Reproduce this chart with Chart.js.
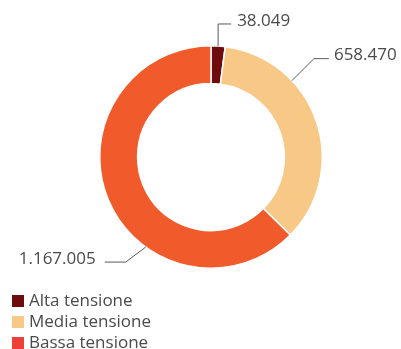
<!DOCTYPE html>
<html><head><meta charset="utf-8">
<script src="https://cdn.jsdelivr.net/npm/chart.js@4"></script>
<style>html,body{margin:0;padding:0;background:#fff}canvas{display:block}</style>
</head><body>
<canvas id="c" width="401" height="349"></canvas>
<script>
const categories = ['Alta tensione', 'Media tensione', 'Bassa tensione'];
const values = [38049, 658470, 1167005];
const valueLabels = ['38.049', '658.470', '1.167.005'];
const sliceColors = ['#6E0B0E', '#F7C886', '#F15A2B'];
const legendColors = ['#6E0B0E', '#F7C886', '#EE4037'];

// leader-line styling: where along the slice the line starts, and its path
const leaderStyle = [
  { frac: 0.5,   seg1: [0, -22],  seg2: 13,  gap: 6,  align: 'left'  },
  { frac: 0.309, seg1: [22, -22], seg2: 15,  gap: 5,  align: 'left'  },
  { frac: 0.361, seg1: [-20, 15], seg2: -21, gap: 9,  align: 'right' }
];

const TEXT_COLOR = '#4a4a4a';
const FONT = '"Open Sans", "DejaVu Sans", sans-serif';

const labelPlugin = {
  id: 'leaderLabels',
  afterDatasetsDraw(chart) {
    const ctx = chart.ctx;
    const meta = chart.getDatasetMeta(0);
    ctx.save();
    meta.data.forEach((arc, i) => {
      const p = arc.getProps(['x', 'y', 'startAngle', 'endAngle', 'outerRadius'], true);
      const s = leaderStyle[i];
      const a = p.startAngle + s.frac * (p.endAngle - p.startAngle);
      const x0 = p.x + Math.cos(a) * p.outerRadius;
      const y0 = p.y + Math.sin(a) * p.outerRadius;
      const x1 = x0 + s.seg1[0], y1 = y0 + s.seg1[1];
      const x2 = x1 + s.seg2;
      ctx.strokeStyle = '#5a5a5a';
      ctx.lineWidth = 1;
      ctx.beginPath();
      ctx.moveTo(x0, y0); ctx.lineTo(x1, y1); ctx.lineTo(x2, y1);
      ctx.stroke();
      ctx.fillStyle = TEXT_COLOR;
      ctx.font = '17px ' + FONT;
      ctx.textBaseline = 'middle';
      ctx.textAlign = s.align;
      const tx = s.align === 'left' ? x2 + s.gap : x2 - s.gap;
      ctx.fillText(valueLabels[i], tx, y1 - 3);
    });
    // legend
    const lx = 12, ly = 301, step = 21, box = 12;
    ctx.font = '17px ' + FONT;
    ctx.textAlign = 'left';
    ctx.textBaseline = 'middle';
    categories.forEach((c, i) => {
      const y = ly + i * step;
      ctx.fillStyle = legendColors[i];
      ctx.fillRect(lx, y - box / 2, box, box);
      ctx.fillStyle = TEXT_COLOR;
      ctx.fillText(c, lx + box + 5, y);
    });
    ctx.restore();
  }
};

new Chart(document.getElementById('c'), {
  type: 'doughnut',
  data: {
    labels: categories,
    datasets: [{
      data: values,
      backgroundColor: sliceColors,
      borderColor: '#ffffff',
      borderWidth: 1.5,
      hoverOffset: 0
    }]
  },
  options: {
    responsive: false,
    animation: false,
    cutout: '66%',
    layout: { padding: { top: 45, left: 99, right: 78, bottom: 80 } },
    plugins: { legend: { display: false }, tooltip: { enabled: false } },
    events: []
  },
  plugins: [labelPlugin]
});
</script>
</body></html>
